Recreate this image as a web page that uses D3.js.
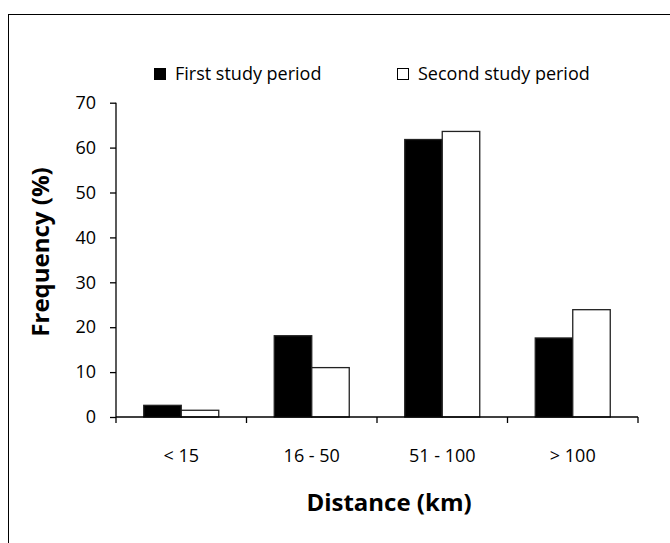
<!DOCTYPE html>
<html><head><meta charset="utf-8">
<script src="https://cdn.jsdelivr.net/npm/d3@7"></script>
<style>body{margin:0;background:#fff}svg{display:block}text{font-family:"Open Sans",Lato,sans-serif;fill:#000}</style>
</head><body>
<svg id="c" width="670" height="543"></svg>
<script>
const categories = ["< 15", "16 - 50", "51 - 100", "> 100"];
const seriesNames = ["First study period", "Second study period"];
const firstPeriod = [2.6, 18.1, 61.8, 17.6];
const secondPeriod = [1.5, 11.0, 63.6, 23.9];
const yTicks = [0, 10, 20, 30, 40, 50, 60, 70];

const svg = d3.select("#c");
// outer border
svg.append("rect").attr("x", 8.5).attr("y", 14.5).attr("width", 700).attr("height", 600)
  .attr("fill", "none").attr("stroke", "#000").attr("stroke-width", 1);

const pLeft = 116, pRight = 638, pTop = 102.7, pBottom = 417;
const x0 = d3.scaleBand().domain(categories).range([pLeft, pRight]).padding(0);
const y = d3.scaleLinear().domain([0, 70]).range([pBottom, pTop]);
const groupW = 75;
const x1 = d3.scaleBand().domain(seriesNames).range([0, groupW]).padding(0);
const colors = {"First study period": "#000", "Second study period": "#fff"};

const data = categories.map((c, i) => ({cat: c, vals: [
  {s: seriesNames[0], v: firstPeriod[i]}, {s: seriesNames[1], v: secondPeriod[i]}]}));

const g = svg.append("g");
g.selectAll("g.grp").data(data).join("g").attr("class", "grp")
  .attr("transform", d => `translate(${x0(d.cat) + x0.bandwidth()/2 - groupW/2},0)`)
  .selectAll("rect").data(d => d.vals).join("rect")
  .attr("x", d => x1(d.s)).attr("width", x1.bandwidth())
  .attr("y", d => y(d.v)).attr("height", d => y(0) - y(d.v))
  .attr("fill", d => colors[d.s]).attr("stroke", "#222").attr("stroke-width", 1.3);

// y axis
const yAxis = d3.axisLeft(y).tickValues(yTicks).tickSize(6).tickPadding(14).tickFormat(d3.format("d"));
const ya = svg.append("g").attr("transform", `translate(${pLeft},0)`).call(yAxis);
ya.selectAll("path,line").attr("stroke", "#000").attr("stroke-width", 1.3);
ya.select("path").attr("d", `M0,${pBottom}V${pTop}`);
ya.selectAll("text").style("font-size", "18px").style("font-family", "'Open Sans', sans-serif").attr("fill", "#000");

// x axis line and boundary ticks
const xa = svg.append("g");
xa.append("line").attr("x1", pLeft).attr("x2", pRight).attr("y1", pBottom).attr("y2", pBottom)
  .attr("stroke", "#000").attr("stroke-width", 1.3);
const bounds = categories.map(c => x0(c)).concat([x0(categories[categories.length-1]) + x0.bandwidth()]);
xa.selectAll("line.t").data(bounds).join("line").attr("class", "t")
  .attr("x1", d => d).attr("x2", d => d).attr("y1", pBottom).attr("y2", pBottom + 6)
  .attr("stroke", "#000").attr("stroke-width", 1.3);
xa.selectAll("text").data(categories).join("text")
  .attr("x", d => x0(d) + x0.bandwidth()/2).attr("y", 462)
  .attr("text-anchor", "middle").style("font-size", "18px").text(d => d);

// axis titles
svg.append("text").attr("x", 389).attr("y", 511).attr("text-anchor", "middle")
  .style("font-size", "24px").style("font-weight", "bold").text("Distance (km)");
svg.append("text").attr("transform", "translate(49,252) rotate(-90)").attr("text-anchor", "middle")
  .style("font-size", "24px").style("font-weight", "bold").text("Frequency (%)");

// legend
const legendX = [154, 397];
const lg = svg.append("g");
seriesNames.forEach((s, i) => {
  lg.append("rect").attr("x", legendX[i] + 0.5).attr("y", 68.5).attr("width", 11).attr("height", 11)
    .attr("fill", colors[s]).attr("stroke", "#000").attr("stroke-width", 1);
  lg.append("text").attr("x", legendX[i] + 21).attr("y", 80).style("font-size", "18px").text(s);
});
</script>
</body></html>
